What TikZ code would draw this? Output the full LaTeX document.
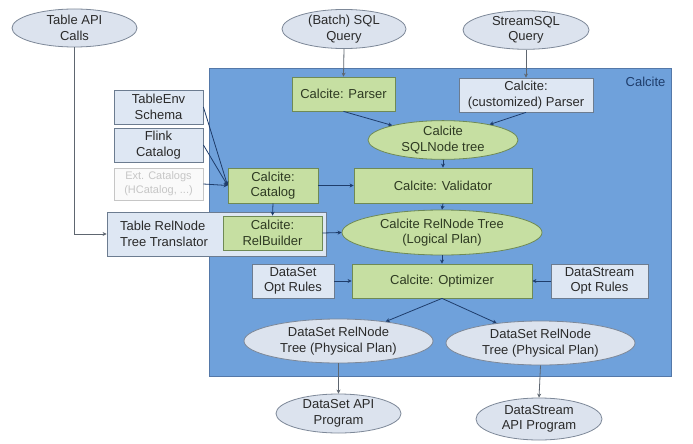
\documentclass[tikz,border=0pt]{standalone}
\usepackage{fontspec}
\setmainfont{Liberation Sans}
\usetikzlibrary{shapes.geometric,arrows.meta}
\definecolor{calblue}{HTML}{6FA1DB}
\definecolor{calborder}{HTML}{5478A8}
\definecolor{gfill}{HTML}{C6DFA2}
\definecolor{gborder}{HTML}{6F8A55}
\definecolor{gtext}{HTML}{2E3A22}
\definecolor{efill}{HTML}{DCE3EE}
\definecolor{eborder}{HTML}{7D8898}
\definecolor{bfill}{HTML}{DEE7F3}
\definecolor{bborder}{HTML}{6C7C90}
\definecolor{arrin}{HTML}{1F3D6B}
\definecolor{arrout}{HTML}{5E6670}
\definecolor{txt}{HTML}{2A2A2A}
\tikzset{
  x=1pt, y=-1pt,
  every node/.style={font=\fontsize{13}{15.5}\selectfont, align=center, inner sep=0pt, text=txt},
  ell/.style={ellipse, draw=eborder, fill=efill, line width=0.8pt},
  gbox/.style={rectangle, draw=gborder, fill=gfill, line width=0.8pt, text=gtext},
  bbox/.style={rectangle, draw=bborder, fill=bfill, line width=0.8pt},
  arrI/.style={draw=arrin, line width=0.8pt, -{Stealth[length=4pt,width=4pt]}},
  arrO/.style={draw=arrout, line width=0.8pt, -{Stealth[length=4pt,width=4pt]}},
}
\begin{document}
\begin{tikzpicture}
\useasboundingbox (0,0) rectangle (693,444);
\fill[white] (0,0) rectangle (693,444);
% Calcite container
\node[draw=calborder, fill=calblue, line width=0.8pt, minimum width=462pt, minimum height=308pt] (cal) at (440,222) {};
\node[text=arrin] (callabel) at (645.5,82) {Calcite};
% top ellipses
\node[ell, minimum width=125pt, minimum height=38pt] (api) at (74.5,28) {Table API\\Calls};
\node[ell, minimum width=124pt, minimum height=38pt] (sql) at (344,29) {(Batch) SQL\\Query};
\node[ell, minimum width=126pt, minimum height=37pt] (ssql) at (526,30) {StreamSQL\\Query};
% parsers
\node[gbox, minimum width=103pt, minimum height=34pt] (parser) at (343.5,94) {Calcite: Parser};
\node[bbox, minimum width=134pt, minimum height=34pt] (cparser) at (526,95) {Calcite:\\(customized) Parser};
\node[ell, draw=gborder, fill=gfill, text=gtext, minimum width=150pt, minimum height=38pt] (sqlnode) at (443,140) {Calcite\\SQLNode tree};
\node[gbox, minimum width=178pt, minimum height=35pt] (validator) at (443,185.5) {Calcite: Validator};
\node[ell, draw=gborder, fill=gfill, text=gtext, minimum width=200pt, minimum height=45pt] (relnode) at (442,232.5) {Calcite RelNode Tree\\(Logical Plan)};
\node[gbox, minimum width=180pt, minimum height=34pt] (optimizer) at (442,281) {Calcite: Optimizer};
\node[bbox, minimum width=82pt, minimum height=34pt] (dsrules) at (293,281) {DataSet\\Opt Rules};
\node[bbox, minimum width=97pt, minimum height=34pt] (dstrules) at (599.5,281) {DataStream\\Opt Rules};
\node[ell, minimum width=189pt, minimum height=44pt] (phys1) at (338.5,341) {DataSet RelNode\\Tree (Physical Plan)};
\node[ell, minimum width=189pt, minimum height=44pt] (phys2) at (540.5,343) {DataSet RelNode\\Tree (Physical Plan)};
\node[ell, minimum width=125pt, minimum height=39pt] (dsapi) at (338.5,413.5) {DataSet API\\Program};
\node[ell, minimum width=126pt, minimum height=42pt] (dstream) at (539,419) {DataStream\\API Program};
% catalogs
\node[bbox, minimum width=89pt, minimum height=34pt] (tableenv) at (158.5,107) {TableEnv\\Schema};
\node[bbox, minimum width=89pt, minimum height=34pt] (flink) at (158.5,145) {Flink\\Catalog};
\node[rectangle, draw=gray!45, fill=white!96!gray, line width=0.8pt, text=gray!45, minimum width=89pt, minimum height=32pt, font=\fontsize{11}{14}\selectfont] (ext) at (158.5,184) {Ext. Catalogs\\(HCatalog, ...)};
\node[gbox, minimum width=90pt, minimum height=35pt] (catalog) at (273,185.5) {Calcite:\\Catalog};
\node[bbox, minimum width=219pt, minimum height=44pt] (translator) at (216.5,234) {};
\node[align=left] (translabel) at (164,234) {Table RelNode\\Tree Translator};
\node[gbox, minimum width=99pt, minimum height=34pt] (relbuilder) at (272.5,233) {Calcite:\\RelBuilder};
% connectors
\draw[arrO] (api.south) |- (translator.west);
\draw[arrO] (sql.south) -- (parser.north);
\draw[arrO] (ssql.south) -- (cparser.north);
\draw[arrI] (parser.south) -- (sqlnode);
\draw[arrI] (cparser.south) -- (sqlnode);
\draw[arrI] (sqlnode.south) -- (validator.north);
\draw[arrI] (validator.south) -- (relnode.north);
\draw[arrI] (relnode.south) -- (optimizer.north);
\draw[arrI] (catalog.east) -- (validator.west);
\draw[arrI] (catalog.south) -- (relbuilder.north);
\draw[arrI] (relbuilder.east) -- (relnode.west);
\draw[arrI] (tableenv.east) -- (catalog.west);
\draw[arrI] (flink.east) -- (catalog.west);
\draw[arrI] (ext.east) -- (catalog.west);
\draw[arrI] (dsrules.east) -- (optimizer.west);
\draw[arrI] (dstrules.west) -- (optimizer.east);
\draw[arrI] (optimizer.south) -- (phys1);
\draw[arrI] (optimizer.south) -- (phys2);
\draw[arrO] (phys1.south) -- (dsapi.north);
\draw[arrO] (phys2.south) -- (dstream.north);
\end{tikzpicture}
\end{document}
